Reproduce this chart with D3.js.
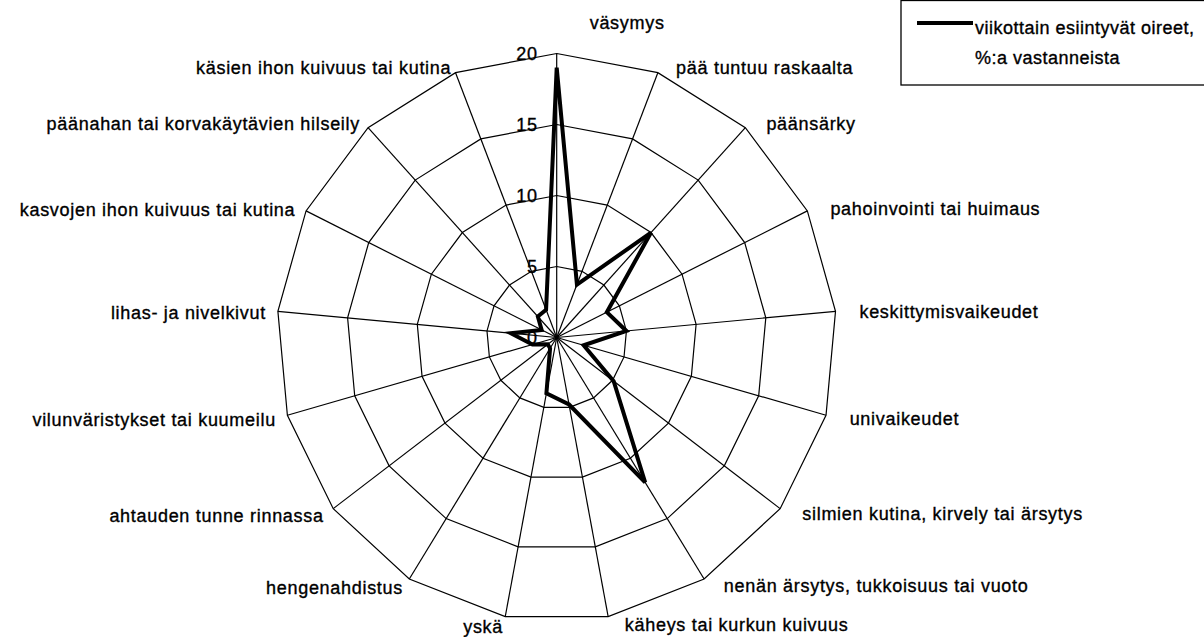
<!DOCTYPE html>
<html>
<head>
<meta charset="utf-8">
<script src="https://cdn.jsdelivr.net/npm/d3@7"></script>
<style>
  html, body { margin: 0; padding: 0; background: #fff; }
  svg { display: block; }
  text { font-family: "Liberation Sans", Arial, sans-serif; fill: #000; stroke: #000; stroke-width: 0.35px; }
</style>
</head>
<body>
<svg id="chart" width="1204" height="637"></svg>
<script>
// ---- data ----
const categories = [
  "väsymys",
  "pää tuntuu raskaalta",
  "päänsärky",
  "pahoinvointi tai huimaus",
  "keskittymisvaikeudet",
  "univaikeudet",
  "silmien kutina, kirvely tai ärsytys",
  "nenän ärsytys, tukkoisuus tai vuoto",
  "käheys tai kurkun kuivuus",
  "yskä",
  "hengenahdistus",
  "ahtauden tunne rinnassa",
  "vilunväristykset tai kuumeilu",
  "lihas- ja nivelkivut",
  "kasvojen ihon kuivuus tai kutina",
  "päänahan tai korvakäytävien hilseily",
  "käsien ihon kuivuus tai kutina"
];
const values = [19, 4, 10, 4, 5, 2, 5.1, 12, 4.8, 4, 0.9, 0.8, 1.8, 3.3, 1.2, 2, 2.1];
const tickValues = [0, 5, 10, 15, 20];
const tickLabels = ["0", "5", "10", "15", "20"];
const legendLines = ["viikottain esiintyvät oireet,", "%:a vastanneista"];

// ---- layout ----
const svg = d3.select("#chart");
const cx = 556.7, cy = 337.5, RX = 280, RY = 284;
const n = categories.length;
const angle = d3.scaleLinear().domain([0, n]).range([0, 2 * Math.PI]);
const r = d3.scaleLinear().domain([0, 20]).range([0, 1]);
const pos = (i, v) => {
  const a = angle(i);
  return [cx + RX * r(v) * Math.sin(a), cy - RY * r(v) * Math.cos(a)];
};

const g = svg.append("g");

// rings (polygon web)
const ringLine = d3.line().curve(d3.curveLinearClosed);
tickValues.filter(t => t > 0).forEach(t => {
  g.append("path")
    .attr("d", ringLine(d3.range(n).map(i => pos(i, t))))
    .attr("fill", "none")
    .attr("stroke", "#000")
    .attr("stroke-width", 1.2);
});

// spokes
g.selectAll("line.spoke").data(d3.range(n)).join("line")
  .attr("class", "spoke")
  .attr("x1", cx).attr("y1", cy)
  .attr("x2", i => pos(i, 20)[0])
  .attr("y2", i => pos(i, 20)[1])
  .attr("stroke", "#000")
  .attr("stroke-width", 1.2);

// tick labels along the top spoke
g.selectAll("text.tick").data(tickValues).join("text")
  .attr("class", "tick")
  .attr("x", cx - 19)
  .attr("y", t => pos(0, t)[1])
  .attr("dy", "0.36em")
  .attr("text-anchor", "end")
  .attr("font-size", 18)
  .attr("letter-spacing", 0.7)
  .text((t, k) => tickLabels[k]);

// data line
g.append("path")
  .attr("d", ringLine(values.map((v, i) => pos(i, v))))
  .attr("fill", "none")
  .attr("stroke", "#000")
  .attr("stroke-width", 4)
  .attr("stroke-linejoin", "miter");

// category labels
g.selectAll("text.cat").data(categories).join("text")
  .attr("class", "cat")
  .each(function (c, i) {
    const a = angle(i);
    const [ex, ey] = pos(i, 20);
    const s = Math.sin(a), co = Math.cos(a);
    let x, y, anchor;
    if (i === 0) {
      x = ex + 33; y = ey - 31; anchor = "start";
    } else if (s > 0.01) {
      x = ex + 15 + 9 * Math.abs(s); y = ey - 7 * co + 1; anchor = "start";
    } else {
      x = ex - 12 * Math.abs(s); y = ey - 8 * co + 2; anchor = "end";
    }
    d3.select(this)
      .attr("x", x).attr("y", y)
      .attr("dy", "0.36em")
      .attr("text-anchor", anchor)
      .attr("font-size", 18)
      .attr("letter-spacing", 0.7)
      .text(c);
  });

// legend
const lg = svg.append("g");
lg.append("rect")
  .attr("x", 901).attr("y", 0.5)
  .attr("width", 320).attr("height", 84.5)
  .attr("fill", "#fff")
  .attr("stroke", "#000")
  .attr("stroke-width", 1.3);
lg.append("line")
  .attr("x1", 917).attr("x2", 973)
  .attr("y1", 23).attr("y2", 23)
  .attr("stroke", "#000").attr("stroke-width", 4);
lg.selectAll("text.leg").data(legendLines).join("text")
  .attr("class", "leg")
  .attr("x", 975)
  .attr("y", (d, k) => 34 + k * 30)
  .attr("font-size", 18)
  .attr("letter-spacing", 0.5)
  .text(d => d);
</script>
</body>
</html>
